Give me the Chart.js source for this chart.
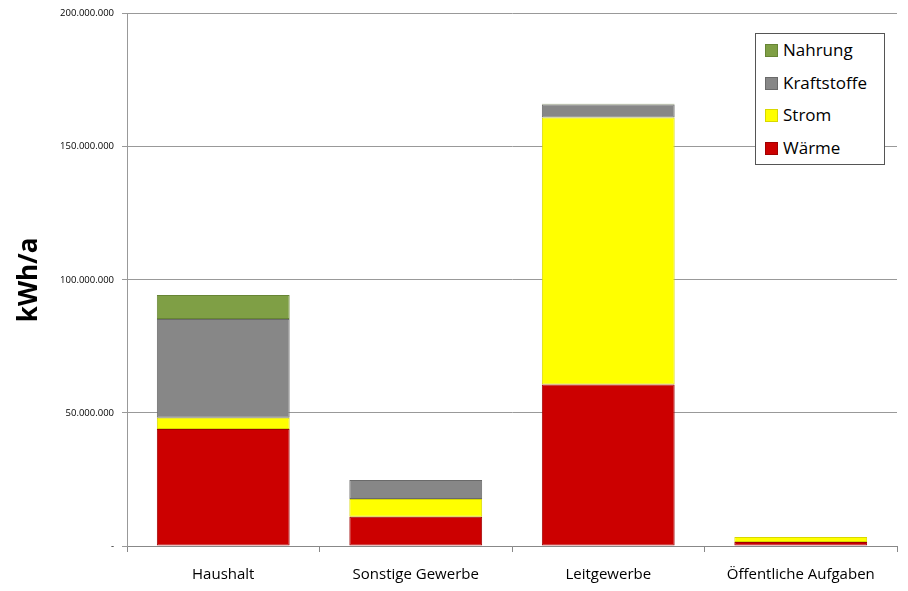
<!DOCTYPE html>
<html>
<head>
<meta charset="utf-8">
<script src="https://cdn.jsdelivr.net/npm/chart.js@4"></script>
<style>
  body { margin: 0; background: #fff; }
  #wrap { position: relative; width: 908px; height: 591px; }
  #legend {
    position: absolute; left: 755px; top: 33px; width: 130px; height: 132px;
    border: 1px solid #555; background: #fff;
    font-family: "Open Sans", "Liberation Sans", sans-serif; font-size: 17px; color: #000;
    padding: 0 0 0 9px; box-sizing: border-box;
  }
  #legend div { height: 32.5px; line-height: 32px; white-space: nowrap; }
  #legend span.sw { display: inline-block; width: 11px; height: 11px; margin-right: 5px; vertical-align: -1px; }
</style>
</head>
<body>
<div id="wrap">
  <canvas id="energyChart" width="908" height="591"></canvas>
  <div id="legend"></div>
</div>
<script>
// categories and values (kWh/a)
const categories = ["Haushalt", "Sonstige Gewerbe", "Leitgewerbe", "Öffentliche Aufgaben"];
const waerme      = [44000000, 11000000, 60700000, 1500000];
const strom       = [4200000, 6700000, 100300000, 1900000];
const kraftstoffe = [37100000, 7100000, 4900000, 0];
const nahrung     = [9000000, 0, 300000, 0];
const yTicks = [0, 50000000, 100000000, 150000000, 200000000];

function formatDE(v) {
    if (v === 0) return '-';
    return String(v).replace(/\B(?=(\d{3})+(?!\d))/g, '.');
}

document.addEventListener("DOMContentLoaded", function() {
    const ctx = document.getElementById("energyChart").getContext('2d');

    let mydata = {
        labels: categories,
        datasets: [
            { label: "Wärme", data: waerme, backgroundColor: '#cc0000', borderColor: '#a00000' },
            { label: "Strom", data: strom, backgroundColor: '#ffff00', borderColor: '#d8d800' },
            { label: "Kraftstoffe", data: kraftstoffe, backgroundColor: '#878787', borderColor: '#6a6a6a' },
            { label: "Nahrung", data: nahrung, backgroundColor: '#7f9f45', borderColor: '#678535' }
        ]
    };
    mydata.datasets.forEach(function(ds) {
        ds.borderWidth = 1;
        ds.borderSkipped = false;
        ds.barPercentage = 0.69;
        ds.categoryPercentage = 1;
    });

    let chart = new Chart(ctx, {
        type: 'bar',
        data: mydata,
        options: {
            responsive: false,
            animation: false,
            layout: { padding: { top: 12, right: 11, left: 0, bottom: 0 } },
            plugins: { legend: { display: false }, tooltip: { enabled: false } },
            scales: {
                x: {
                    stacked: true,
                    grid: { display: true, drawOnChartArea: false, drawTicks: true, tickLength: 6, color: '#888', offset: true },
                    border: { color: '#888' },
                    ticks: { color: '#000', font: { family: '"Open Sans", "Liberation Sans", sans-serif', size: 15 }, padding: 14 },
                    afterFit: function(s) { s.height = 45; }
                },
                y: {
                    stacked: true,
                    min: 0, max: 200000000,
                    afterBuildTicks: function(s) { s.ticks = yTicks.map(function(v) { return { value: v }; }); },
                    grid: { color: '#999', tickLength: 5 },
                    border: { color: '#999' },
                    ticks: {
                        color: '#000', padding: 8,
                        font: { family: '"Open Sans", "Liberation Sans", sans-serif', size: 9.5 },
                        callback: function(v) { return formatDE(v); }
                    },
                    title: {
                        display: true, text: 'kWh/a', color: '#000',
                        font: { family: '"Open Sans", "Liberation Sans", sans-serif', size: 26, weight: 'bold' },
                        padding: { top: 14, bottom: 10 }
                    },
                    afterFit: function(s) { s.width = 127; }
                }
            }
        }
    });

    // legend box, listed top-down in reverse stacking order
    const legend = document.getElementById('legend');
    chart.data.datasets.slice().reverse().forEach(function(ds) {
        const row = document.createElement('div');
        const sw = document.createElement('span');
        sw.className = 'sw';
        sw.style.background = ds.backgroundColor;
        sw.style.border = '1px solid ' + ds.borderColor;
        row.appendChild(sw);
        row.appendChild(document.createTextNode(ds.label));
        legend.appendChild(row);
    });
});
</script>
</body>
</html>
